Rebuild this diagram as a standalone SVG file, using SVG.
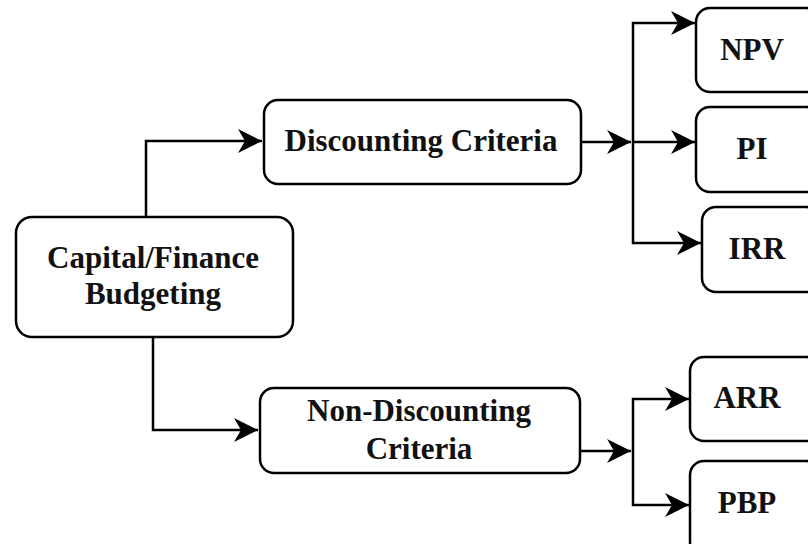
<svg xmlns="http://www.w3.org/2000/svg" width="808" height="544" viewBox="0 0 808 544">
  <style>
    .box { fill: #ffffff; stroke: #000000; stroke-width: 2.5; }
    .lbl { font-family: "Liberation Serif", "Times New Roman", serif; font-weight: bold; font-size: 31px; fill: #111111; text-anchor: middle; }
    .wire { fill: none; stroke: #000000; stroke-width: 2.5; }
  </style>
  <defs>
    <marker id="arrow" markerUnits="userSpaceOnUse" markerWidth="26" markerHeight="26" refX="24" refY="12" orient="auto">
      <path d="M0,0 L24,12 L0,24 L7,12 Z" fill="#000000"/>
    </marker>
  </defs>
  <rect width="808" height="544" fill="#ffffff"/>

  <g id="connectors">
    <path class="wire" d="M146,217 V141 H262" marker-end="url(#arrow)"/>
    <path class="wire" d="M153,337 V430 H258" marker-end="url(#arrow)"/>
    <path class="wire" d="M581,142 H631" marker-end="url(#arrow)"/>
    <path class="wire" d="M633,142 V23 H695" marker-end="url(#arrow)"/>
    <path class="wire" d="M633,142 V243 H701" marker-end="url(#arrow)"/>
    <path class="wire" d="M633,142 H695" marker-end="url(#arrow)"/>
    <path class="wire" d="M580,451 H631" marker-end="url(#arrow)"/>
    <path class="wire" d="M633,451 V399 H689" marker-end="url(#arrow)"/>
    <path class="wire" d="M633,451 V505 H689" marker-end="url(#arrow)"/>
  </g>

  <g id="capital">
    <rect class="box" x="16" y="217" width="277" height="120" rx="16"/>
    <text class="lbl" x="153" y="268">Capital/Finance</text>
    <text class="lbl" x="153" y="304">Budgeting</text>
  </g>
  <g id="discounting">
    <rect class="box" x="264" y="100" width="317" height="84" rx="14"/>
    <text class="lbl" x="421" y="151">Discounting Criteria</text>
  </g>
  <g id="non-discounting">
    <rect class="box" x="260" y="388" width="320" height="85" rx="14"/>
    <text class="lbl" x="419" y="421">Non-Discounting</text>
    <text class="lbl" x="419" y="459">Criteria</text>
  </g>
  <g id="npv">
    <rect class="box" x="696" y="8" width="124" height="84" rx="14"/>
    <text class="lbl" x="752" y="60">NPV</text>
  </g>
  <g id="pi">
    <rect class="box" x="696" y="107" width="124" height="85" rx="14"/>
    <text class="lbl" x="752" y="159">PI</text>
  </g>
  <g id="irr">
    <rect class="box" x="702" y="207" width="118" height="85" rx="14"/>
    <text class="lbl" x="757" y="259">IRR</text>
  </g>
  <g id="arr">
    <rect class="box" x="690" y="357" width="130" height="84" rx="14"/>
    <text class="lbl" x="747" y="408">ARR</text>
  </g>
  <g id="pbp">
    <rect class="box" x="690" y="461" width="130" height="95" rx="14"/>
    <text class="lbl" x="747" y="513">PBP</text>
  </g>
</svg>
